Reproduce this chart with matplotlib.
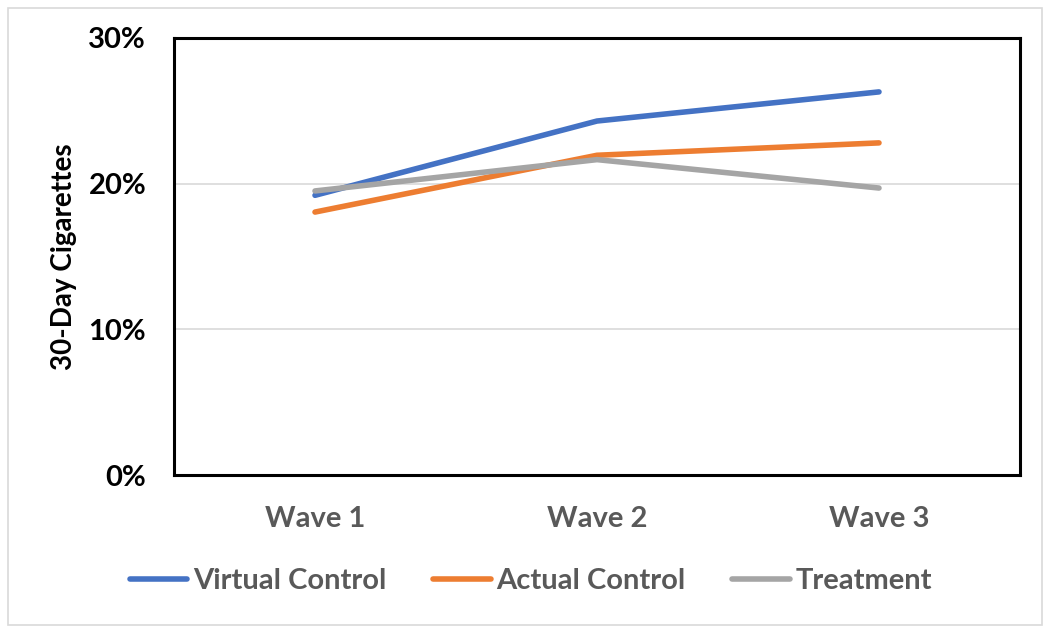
import matplotlib
matplotlib.use("Agg")
import matplotlib.pyplot as plt
from matplotlib.patches import Rectangle
from matplotlib.ticker import FuncFormatter

categories = ["Wave 1", "Wave 2", "Wave 3"]
virtual_control = [19.2, 24.3, 26.3]
actual_control = [18.05, 21.95, 22.8]
treatment = [19.5, 21.65, 19.7]
series_names = ["Virtual Control", "Actual Control", "Treatment"]
colors = ["#4472C4", "#ED7D31", "#A5A5A5"]
y_ticks = [0, 10, 20, 30]

plt.rcParams['font.family'] = ['Lato', 'DejaVu Sans']

fig = plt.figure(figsize=(10.5, 6.31), dpi=100)
ax = fig.add_axes([174/1050, 1-475/631, (1020-174)/1050, (475-38)/631])

x = list(range(len(categories)))
for vals, name, c in zip([virtual_control, actual_control, treatment], series_names, colors):
    ax.plot(x, vals, color=c, lw=4.0, label=name, solid_capstyle='round')

ax.set_xlim(-0.5, 2.5)
ax.set_ylim(0, 30)
ax.set_yticks(y_ticks)
ax.yaxis.set_major_formatter(FuncFormatter(lambda v, p: f"{int(v)}%"))
ax.set_xticks(x)
ax.set_xticklabels(categories)
ax.grid(axis='y', color='#D9D9D9', lw=1.2)
ax.set_axisbelow(True)
for s in ax.spines.values():
    s.set_linewidth(2.2)
    s.set_color('black')
ax.tick_params(axis='both', length=0)
ax.tick_params(axis='y', pad=20, labelsize=21, labelcolor='black')
ax.tick_params(axis='x', pad=22, labelsize=21, labelcolor='#595959')
for t in ax.get_yticklabels():
    t.set_fontweight('bold')
for t in ax.get_xticklabels():
    t.set_fontweight('bold')
ax.set_ylabel("30-Day Cigarettes", fontsize=20, fontweight='bold', labelpad=8)

leg = fig.legend(*ax.get_legend_handles_labels(), loc='center',
                 bbox_to_anchor=(531/1050, 1-581/631), ncol=3, frameon=False,
                 handlelength=1.97, handletextpad=0.2, columnspacing=1.6,
                 prop={'weight': 'bold', 'size': 21})
for t in leg.get_texts():
    t.set_color('#595959')

fig.patches.append(Rectangle((8/1050, 1-625/631), (1042-8)/1050, (625-8)/631,
                             transform=fig.transFigure, fill=False, edgecolor='#D9D9D9', lw=1.2))

fig.savefig("out.png", dpi=100)
